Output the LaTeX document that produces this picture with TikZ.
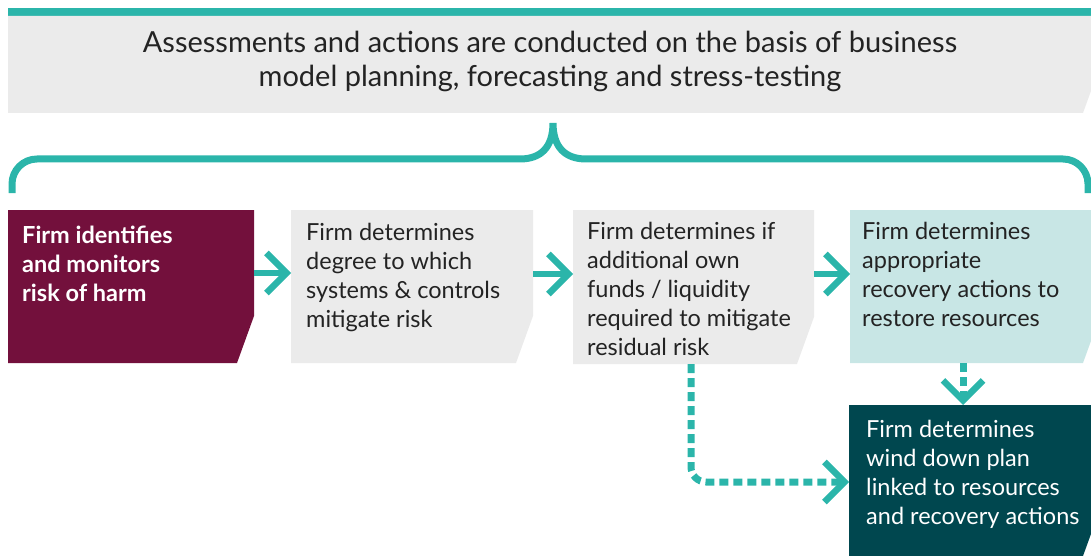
\documentclass[tikz,border=0pt]{standalone}
\usepackage{fontspec}
\setmainfont{Lato}
\usetikzlibrary{arrows.meta}
\definecolor{tealc}{RGB}{43,181,170}
\definecolor{maroonc}{RGB}{115,16,60}
\definecolor{grayc}{RGB}{235,235,235}
\definecolor{lighttealc}{RGB}{200,230,229}
\definecolor{darktealc}{RGB}{0,71,79}
\definecolor{textc}{RGB}{35,35,35}
\begin{document}
\begin{tikzpicture}[x=1pt,y=-1pt,
  cutbox/.style={inner sep=0pt, outer sep=0pt, path picture={\fill[#1]
      (path picture bounding box.north west) -- (path picture bounding box.north east)
      -- ([yshift=47pt]path picture bounding box.south east)
      -- ([xshift=-17pt]path picture bounding box.south east)
      -- (path picture bounding box.south west) -- cycle;}},
  txt/.style={anchor=north west, inner sep=0pt, align=left,
      font=\fontsize{23.5}{29}\selectfont, text=textc},
  arr/.style={draw=tealc, line width=6.5pt, -{Straight Barb[length=20pt,width=40pt]}},
  darr/.style={draw=tealc, line width=7pt, dash pattern=on 9pt off 5pt,
      -{Straight Barb[length=20pt,width=40pt,line width=6.5pt]}},
  bracec/.style={draw=tealc, line width=7pt}
]
\useasboundingbox (0,0) rectangle (1091,556);

% header
\fill[tealc] (8,8) rectangle (1100,16);
\node[cutbox=grayc, minimum width=1092pt, minimum height=97pt] (hdr) at (554,64.5) {};
\node[anchor=north, inner sep=0pt, align=center, font=\fontsize{29}{34}\selectfont, text=textc]
  (hdrtxt) at (550,31) {\rule{0pt}{21pt}Assessments and actions are conducted on the basis of business\\model planning, forecasting and stress-testing};

% brace
\draw[bracec] (12,193) -- (12,184) arc[start angle=180, end angle=270, radius=25]
  -- (520,159) .. controls (541,159) and (553,147) .. (553,123)
  .. controls (553,147) and (565,159) .. (586,159)
  -- (1063,159) arc[start angle=270, end angle=360, radius=25] -- (1088,193);

% boxes
\node[cutbox=maroonc, minimum width=246pt, minimum height=153pt] (b1) at (131,286.5) {};
\node[cutbox=grayc, minimum width=242pt, minimum height=153pt] (b2) at (412,286.5) {};
\node[cutbox=grayc, minimum width=241pt, minimum height=154pt] (b3) at (693.5,287) {};
\node[cutbox=lighttealc, minimum width=250pt, minimum height=153pt] (b4) at (975,286.5) {};
\node[cutbox=darktealc, minimum width=251pt, minimum height=151pt] (b5) at (974.5,480.5) {};

% texts
\node[txt, text=white, font=\fontsize{23.5}{29}\bfseries\selectfont] (t1) at ([xshift=14pt,yshift=-15pt]b1.north west)
  {\rule{0pt}{18pt}Firm identifies\\and monitors\\risk of harm};
\node[txt] (t2) at ([xshift=15pt,yshift=-12pt]b2.north west)
  {\rule{0pt}{18pt}Firm determines\\degree to which\\systems \& controls\\mitigate risk};
\node[txt] (t3) at ([xshift=14pt,yshift=-11pt]b3.north west)
  {\rule{0pt}{18pt}Firm determines if\\additional own\\funds / liquidity\\required to mitigate\\residual risk};
\node[txt] (t4) at ([xshift=12pt,yshift=-11pt]b4.north west)
  {\rule{0pt}{18pt}Firm determines\\appropriate\\recovery actions to\\restore resources};
\node[txt, text=white] (t5) at ([xshift=17pt,yshift=-14pt]b5.north west)
  {\rule{0pt}{18pt}Firm determines\\wind down plan\\linked to resources\\and recovery actions};

% connectors
\draw[arr] ([yshift=-63pt]b1.north east) -- ([yshift=-63pt]b2.north west);
\draw[arr] ([yshift=-64pt]b2.north east) -- ([yshift=-64pt]b3.north west);
\draw[arr] ([yshift=-64pt]b3.north east) -- ([yshift=-64pt]b4.north west);
\draw[darr] ([xshift=-12pt]b4.south) -- ([xshift=-12pt]b4.south |- b5.north);
\draw[darr, rounded corners=15pt] ([xshift=-2.5pt]b3.south) |- ([yshift=-1.5pt]b5.west);
\end{tikzpicture}
\end{document}
